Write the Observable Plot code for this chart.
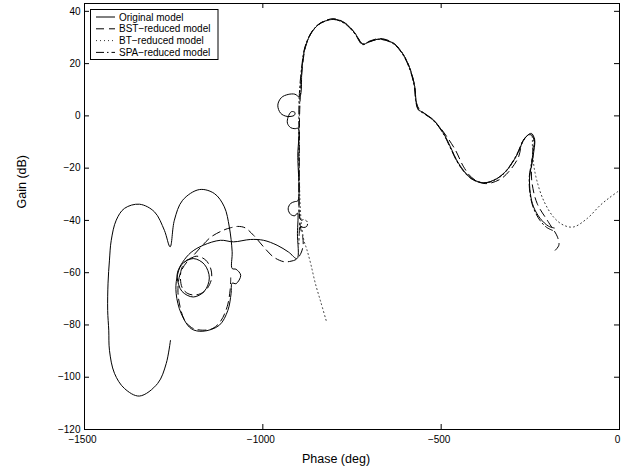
<!DOCTYPE html>
<html><head><meta charset="utf-8">
<script src="https://cdn.jsdelivr.net/npm/d3@7"></script>
<script src="https://cdn.jsdelivr.net/npm/@observablehq/plot@0.6"></script>
<style>
body{margin:0;background:#fff;}
#wrap{position:relative;width:631px;height:476px;}
#legend{position:absolute;left:0;top:0;pointer-events:none;}
</style>
</head><body><div id="wrap"></div>
<script>
// ---------- data (phase in deg, gain in dB) ----------
const xTicks = [-1500, -1000, -500, 0];
const yTicks = [-120, -100, -80, -60, -40, -20, 0, 20, 40];
const seriesNames = ["Original model", "BST\u2212reduced model", "BT\u2212reduced model", "SPA\u2212reduced model"];

const origPhase = [-183,-199,-222,-241,-250,-252,-245.5,-240,-238,-247,-258,-269,-288,-316,-344,-381,-418,-451,-474,-493,-521,-550,-563,-570,-574,-586,-605,-633,-671,-703,-720,-741,-769,-801,-839,-862,-881,-890,-897,
 -910,-929,-948,-958,-950,-932,-912,-910,-920,-929,-931,-922,-910,-901,
 -902,-902,-910,-922,-929,-922,-910,-903,-903,-904,
 -928,-960,-998,-1035,-1082,-1119,-1167,-1201,-1225,-1239,
 -1240,-1227,-1195,-1164,-1150,-1164,-1195,-1227,-1241,
 -1243,-1229,-1201,-1168,-1122,-1098,-1089,-1086,
 -1075,-1062,-1075,-1086,
 -1086,-1094,-1108,-1136,-1178,-1225,-1248,-1260,-1276,-1304,-1346,-1388,-1411,-1425,-1430,-1434,-1435,-1432,-1430,-1416,-1388,-1346,-1295,-1271,-1259];
const origGain = [-42.9,-42.2,-39.3,-34.8,-29.7,-23.3,-18.2,-13.4,-9.0,-6.7,-7.5,-9.3,-15.0,-20.8,-24.0,-25.6,-23.6,-18.2,-11.9,-6.7,-1.6,1.2,2.4,5.5,11.1,17.5,23.2,27.7,29.4,28.3,27.4,31.5,35.4,37.0,35.4,32.2,26.4,18.8,7.3,
 8.3,8.2,7.0,4.1,1.0,-0.2,0.2,1.3,1.6,-0.4,-2.8,-4.5,-4.9,-4.8,
 -15,-32.5,-32.8,-33.5,-35.6,-37.7,-38.2,-37.2,-45,-54.6,
 -52.1,-49.5,-47.6,-47.3,-48.2,-47.6,-49.5,-52.2,-56.0,-59.8,
 -62.0,-67.1,-69.3,-67.1,-62.0,-56.8,-54.6,-56.8,-62.0,
 -68.0,-75.6,-81.4,-82.4,-80.1,-74.4,-68.0,-64.0,
 -64.2,-61.0,-58.7,-58.4,
 -52,-42.5,-34.8,-29.7,-28.2,-32.3,-39.9,-50.1,-43.8,-36.7,-33.8,-35.4,-39.9,-47.6,-55.2,-64.0,-74.4,-82.0,-89.7,-98.5,-104.3,-107.2,-102.4,-94.8,-85.9];

const bstPhase = [-180,-170,-174,-199,-231,-245,-247,-243,-241,-250,-260,-273,-283,-307,-335,-377,-414,-437,-460,-484,-511,-547,-563,-571,-574,-586,-605,-633,-671,-703,-720,-741,-769,-801,-839,-862,-880,-889,-895,
 -897,-897.5,-898,-898,-894,-888,-887,-893,-905,-921,-941,-970,-998,-1026,-1050,-1070,-1090,-1108,-1145,-1173,-1203,
 -1216,-1228,-1231,-1226,-1210,-1187,-1162,-1145,-1145,-1160,-1187,-1212,-1232,
 -1238,-1232,-1220,-1200,-1170,-1140,-1118,-1100,-1092,-1090];
const bstGain = [-51.4,-49.5,-46.3,-40.7,-33.5,-25.9,-20.8,-13.1,-8.5,-7.2,-7.8,-10.1,-15.7,-20.8,-24.3,-25.9,-23.6,-19.5,-13.1,-8.0,-3.2,1.0,2.9,6,11.1,17.5,23.2,27.8,29.6,28.5,27.6,31.6,35.5,37.2,35.5,32.3,26.5,18.8,7.3,
 0,-12,-26,-38,-43,-46.5,-49.5,-52.5,-54.8,-55.6,-55.8,-54.0,-50.1,-45.7,-42.8,-42.3,-42.8,-43.6,-46.3,-50.1,-54.5,
 -55.5,-58.5,-62,-65.8,-68,-68.5,-67,-63,-59,-55.2,-53.7,-55.8,-60.5,
 -67,-73,-78,-81,-82,-81.3,-78.5,-73,-67,-62];

const btPhase = [-5,-30,-54,-91,-129,-157,-185,-213,-232,-241,-244,-247,
 -258,-269,-288,-316,-344,-381,-418,-451,-474,-493,-521,-550,-563,-570,-574,-586,-605,-633,-671,-703,-720,-741,-769,-801,-839,-862,-881,-890,-896,
 -898,-897.5,-896,-892,-885,-876,-865,-853,-838,-822];
const btGain = [-29.0,-31.5,-34.2,-39.3,-42.5,-41.8,-38.7,-32.3,-24.6,-18.2,-12,-7.2,
 -7.6,-9.5,-15.2,-21.0,-24.2,-25.8,-23.8,-18.4,-12.1,-6.9,-1.8,1.1,2.3,5.4,11.0,17.4,23.1,27.6,29.3,28.2,27.3,31.4,35.3,36.9,35.3,32.1,26.3,18.7,7.3,
 -5,-20,-32,-41,-47.5,-51.4,-57,-64,-71,-78.5];

const spaPhase = [-188,-205,-224,-242,-251,-253,-247,-241.5,-239,-248,-259,-270,-290,-318,-346,-382,-419,-452,-475,-494,-522,-551,-564,-571,-575,-587,-606,-634,-672,-704,-721,-742,-770,-802,-840,-863,-882,-891,-898,
 -899,-899,-898.5,-898,-893,-885,-876,-874.5,-877,-885,-893,-896,-898,-899];
const spaGain = [-43.8,-42.6,-39.8,-35,-29.7,-23.3,-18.2,-13.4,-9.0,-6.8,-7.6,-9.4,-15.3,-21.0,-24.2,-25.7,-23.7,-18.3,-12.0,-6.8,-1.7,1.1,2.3,5.4,11.0,17.4,23.1,27.6,29.3,28.2,27.3,31.4,35.3,36.9,35.3,32.1,26.3,18.7,7.3,
 -5,-20,-33,-37,-39.9,-39.7,-40.4,-41.2,-42.3,-42.7,-42.3,-41.2,-45,-49];

// ---------- styles ----------
const styles = [
  {dash: null, stroke: "#000", width: 1},
  {dash: "8,5", stroke: "#000", width: 1},
  {dash: "1,3", stroke: "#333", width: 1},
  {dash: "8,3,1.5,3", stroke: "#000", width: 1}
];
const seriesData = [[origPhase, origGain], [bstPhase, bstGain], [btPhase, btGain], [spaPhase, spaGain]];
const toRows = (ph, g) => ph.map((p, i) => ({phase: p, gain: g[i]}));

const W = 631, H = 476, mL = 84, mR = 12, mT = 3, mB = 47;
const fw = W - mL - mR, fh = H - mT - mB, tk = 5;
const fmt = d => d < 0 ? "\u2212" + Math.abs(d) : String(d);

const curves = seriesData.map(([ph, g], i) => Plot.line(toRows(ph, g), {
  x: "phase", y: "gain", curve: "catmull-rom",
  stroke: styles[i].stroke, strokeWidth: styles[i].width,
  strokeDasharray: styles[i].dash, strokeLinejoin: "round"
}));

const chart = Plot.plot({
  width: W, height: H,
  marginLeft: mL, marginRight: mR, marginTop: mT, marginBottom: mB,
  style: {fontFamily: '"Liberation Sans", Arial, Helvetica, sans-serif', fontSize: "10px", background: "#fff", color: "#000"},
  x: {domain: [-1500, 0]},
  y: {domain: [-120, 43]},
  marks: [
    ...curves,
    Plot.frame({stroke: "#000", strokeWidth: 1}),
    Plot.tickX(xTicks, {x: d => d, insetTop: fh - tk, stroke: "#000"}),
    Plot.tickX(xTicks, {x: d => d, insetBottom: fh - tk, stroke: "#000"}),
    Plot.tickY(yTicks, {y: d => d, insetRight: fw - tk, stroke: "#000"}),
    Plot.tickY(yTicks, {y: d => d, insetLeft: fw - tk, stroke: "#000"}),
    Plot.axisX({ticks: xTicks, tickSize: 0, tickPadding: 6, tickFormat: fmt, label: null, dx: -2}),
    Plot.axisY({ticks: yTicks, tickSize: 0, tickPadding: 4, tickFormat: fmt, label: null}),
    Plot.text(["Phase (deg)"], {text: d => d, frameAnchor: "bottom", dx: -16, dy: 33, fontSize: 12.5}),
    Plot.text(["Gain (dB)"], {text: d => d, frameAnchor: "left", rotate: -90, dx: -62.5, dy: -8, fontSize: 12.5})
  ]
});
const wrap = document.getElementById("wrap");
wrap.appendChild(chart);

// ---------- legend (inside axes, top-left) ----------
const lg = d3.select(wrap).append("svg").attr("id", "legend").attr("width", W).attr("height", H)
  .style("font-family", '"Liberation Sans", Arial, Helvetica, sans-serif').style("font-size", "10px");
lg.append("rect").attr("x", 90.5).attr("y", 9.5).attr("width", 127.5).attr("height", 50)
  .attr("fill", "#fff").attr("stroke", "#000").attr("stroke-width", 1);
seriesNames.forEach((name, i) => {
  const yy = 17 + i * 11.8;
  lg.append("line").attr("x1", 96).attr("x2", 115).attr("y1", yy).attr("y2", yy)
    .attr("stroke", styles[i].stroke).attr("stroke-width", styles[i].width)
    .attr("stroke-dasharray", styles[i].dash);
  lg.append("text").attr("x", 119).attr("y", yy + 3.5).attr("fill", "#000").text(name);
});
</script>
</body></html>
